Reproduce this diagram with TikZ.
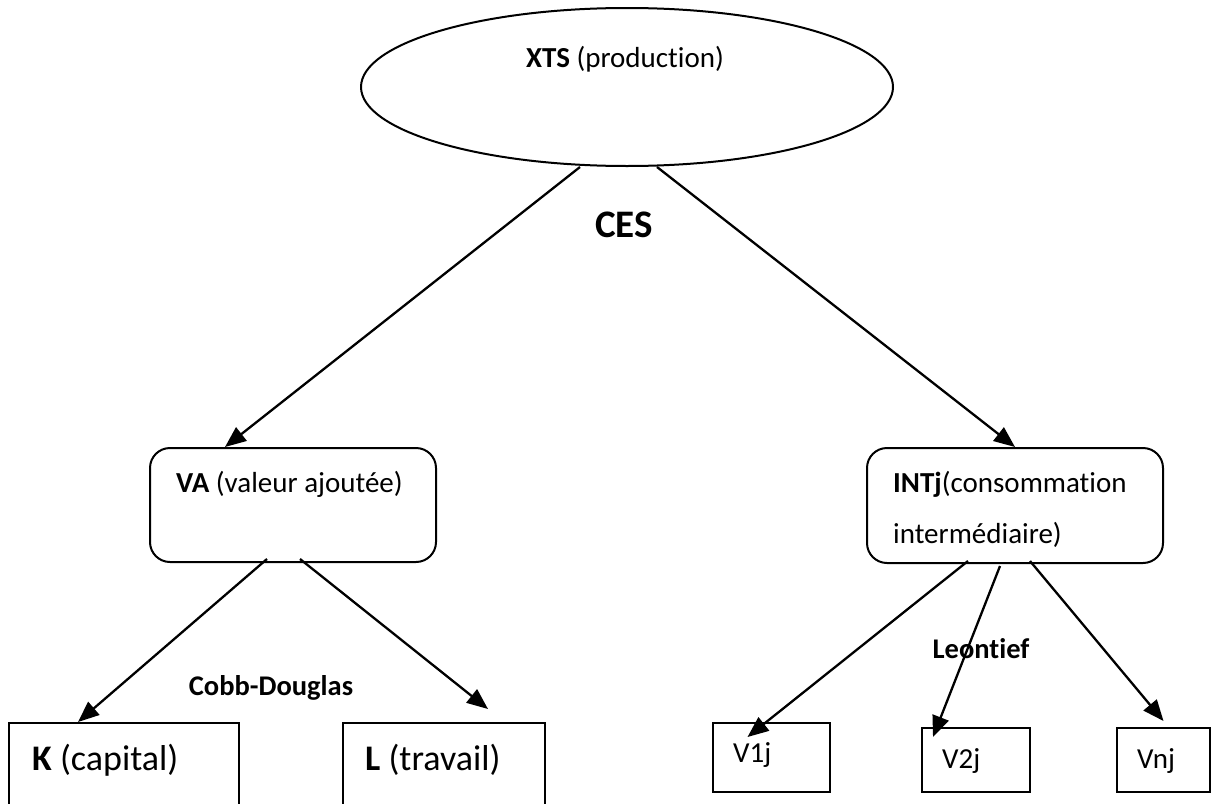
\documentclass[tikz,border=0pt]{standalone}
\usepackage{fontspec}
\setmainfont{Carlito}[Ligatures={NoCommon}]
\usetikzlibrary{shapes.geometric,arrows.meta}

\tikzset{
  shapeline/.style={draw=black, line width=2pt},
  oval/.style={shapeline, ellipse, inner sep=0pt},
  roundbox/.style={shapeline, rectangle, rounded corners=20pt, inner sep=0pt},
  plainbox/.style={shapeline, rectangle, inner sep=0pt},
  txt/.style={inner sep=0pt, anchor=base west, font=\fontsize{29}{33}\selectfont},
  bigtxt/.style={txt, font=\fontsize{36}{40}\selectfont},
  lbl/.style={inner sep=0pt, anchor=base, font=\bfseries\fontsize{28.5}{32}\selectfont},
  link/.style={line width=2.3pt, -{Triangle[length=21pt,width=17pt]}},
}

\begin{document}
\begin{tikzpicture}[x=1pt, y=-1pt]
  \useasboundingbox (0,0) rectangle (1217,803);

  % top level: gross output
  \node[oval, minimum width=532pt, minimum height=158pt] (xts) at (627,87) {};
  \node[txt, anchor=base] (xtstext) at (625,67) {\textbf{XTS} (production)};

  % second level
  \node[roundbox, minimum width=286pt, minimum height=114pt] (va) at (293,505) {};
  \node[txt] (vatext) at (176,492) {\textbf{VA} (valeur ajoutée)};

  \node[roundbox, minimum width=296pt, minimum height=115pt] (intj) at (1015,505.5) {};
  \node[txt] (intjtext1) at (893,492) {\textbf{INTj}(consommation};
  \node[txt] (intjtext2) at (893,543) {intermédiaire)};

  % value-added inputs
  \node[plainbox, minimum width=230pt, minimum height=110pt] (k) at (124,778) {};
  \node[bigtxt] (ktext) at (32,770) {\textbf{K} (capital)};
  \node[plainbox, minimum width=202pt, minimum height=110pt] (l) at (444,778) {};
  \node[bigtxt] (ltext) at (365,770) {\textbf{L} (travail)};

  % intermediate inputs
  \node[plainbox, minimum width=117pt, minimum height=69pt] (v1) at (771.5,757.5) {};
  \node[txt] (v1text) at (733,762) {V1j};
  \node[plainbox, minimum width=108pt, minimum height=64pt] (v2) at (976,760) {};
  \node[txt] (v2text) at (942,768) {V2j};
  \node[plainbox, minimum width=93pt, minimum height=64pt] (vn) at (1163.5,760) {};
  \node[txt] (vntext) at (1137,768) {Vnj};

  % nesting labels
  \node[lbl, font=\bfseries\fontsize{39}{44}\selectfont] (ces) at (624,237) {CES};
  \node[lbl] (cd) at (271,695) {Cobb-Douglas};
  \node[lbl] (leon) at (981,658) {Leontief};

  % connectors
  \draw[link] ([xshift=-47pt]xts.south) -- ([xshift=-68pt]va.north);
  \draw[link] ([xshift=30pt]xts.south) -- (intj.north);
  \draw[link] ([xshift=-26pt,yshift=4pt]va.south) -- ([xshift=-46pt]k.north);
  \draw[link] ([xshift=7pt,yshift=4pt]va.south) -- ([xshift=44pt,yshift=13pt]l.north);
  \draw[link] ([xshift=-47pt,yshift=3pt]intj.south) -- ([xshift=-24pt,yshift=-15pt]v1.north);
  \draw[link] ([xshift=-15pt,yshift=-2pt]intj.south) -- ([xshift=-43pt,yshift=-10pt]v2.north);
  \draw[link] ([xshift=15pt,yshift=3pt]intj.south) -- ([yshift=6pt]vn.north);
\end{tikzpicture}
\end{document}
